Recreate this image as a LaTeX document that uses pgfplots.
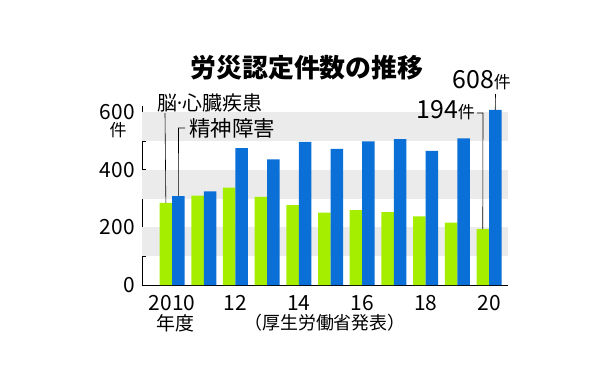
\documentclass[border=0pt]{standalone}
\usepackage{pgfplots}
\pgfplotsset{compat=1.18}
\usepackage{fontspec}
\setmainfont{Noto Sans CJK JP}
\definecolor{lime}{HTML}{A6EE00}
\definecolor{barblue}{HTML}{0A6FD6}
\definecolor{band}{HTML}{EBEBEB}
\begin{document}
\begin{tikzpicture}[x=1bp,y=1bp]
\useasboundingbox (0,0) rectangle (600,379);
\begin{axis}[
  at={(142bp,94bp)}, anchor=south west,
  scale only axis, width=366bp, height=178.7bp,
  xmin=-0.95, xmax=10.6, ymin=0, ymax=620,
  axis x line*=bottom, axis y line*=left,
  axis line style={black, line width=0.8bp, -},
  ybar=0pt, bar width=12.5bp,
  xtick={0,2,4,6,8,10}, xticklabels={2010,12,14,16,18,20},
  ytick={0,100,200,300,400,500,600}, yticklabels={0,,200,,400,,600},
  tick align=inside, major tick length=4bp,
  major x tick style={draw=none},
  major y tick style={black, line width=0.6bp},
  /pgf/number format/assume math mode=true,
  yticklabel style={font=\fontsize{21}{21}\selectfont, anchor=east, inner sep=0pt, xshift=-7bp},
  xticklabel style={font=\fontsize{21}{21}\selectfont, anchor=north, inner sep=0pt, yshift=-10bp},
  clip=false,
]
\fill[band] (axis cs:-0.95,100) rectangle (axis cs:10.6,200);
\fill[band] (axis cs:-0.95,300) rectangle (axis cs:10.6,400);
\fill[band] (axis cs:-0.95,500) rectangle (axis cs:10.6,600);
\addplot[fill=lime, draw=none] coordinates {(0,285) (1,310) (2,338) (3,306) (4,277) (5,251) (6,260) (7,253) (8,238) (9,216) (10,194)};
\addplot[fill=barblue, draw=none] coordinates {(0,308) (1,325) (2,475) (3,436) (4,497) (5,472) (6,498) (7,506) (8,465) (9,509) (10,608)};
\coordinate (g0) at (axis cs:0,285);
\coordinate (b0) at (axis cs:0,308);
\coordinate (g10) at (axis cs:10,194);
\coordinate (b10) at (axis cs:10,608);
\end{axis}
% title
\node[font=\fontsize{26}{26}\selectfont\bfseries] at (307,311) {労災認定件数の推移};
% unit
\node[font=\fontsize{17}{17}\selectfont, inner sep=0pt] at (118,249) {件};
% legend labels
\node[font=\fontsize{20}{20}\selectfont, anchor=west, inner sep=0pt] at (157,276) {脳\hspace{-3bp}·\hspace{-3bp}心臓疾患};
\node[font=\fontsize{21.5}{21.5}\selectfont, anchor=west, inner sep=0pt] at (189,251) {精神障害};
\draw[line width=0.6bp] (165,266) -- ([xshift=-6.25bp]g0);
\draw[line width=0.6bp] (185,251) -- (178.5,251) -- ([xshift=6.25bp]b0);
% annotations
\node[anchor=east, inner sep=0pt] at (475,269) {\fontsize{25}{25}\selectfont 194\fontsize{17}{17}\selectfont 件};
\draw[line width=0.6bp] (477,266) -- (483,266) -- ([xshift=-6.25bp]g10);
\node[anchor=east, inner sep=0pt] at (511,299) {\fontsize{25}{25}\selectfont 608\fontsize{17}{17}\selectfont 件};
\draw[line width=0.6bp] (495.5,285) -- ([xshift=6.25bp]b10);
% footer
\node[font=\fontsize{19}{19}\selectfont, inner sep=0pt] at (175,56) {年度};
\node[font=\fontsize{18}{18}\selectfont, inner sep=0pt] at (325,56) {（厚生労働省発表）};
\end{tikzpicture}
\end{document}
